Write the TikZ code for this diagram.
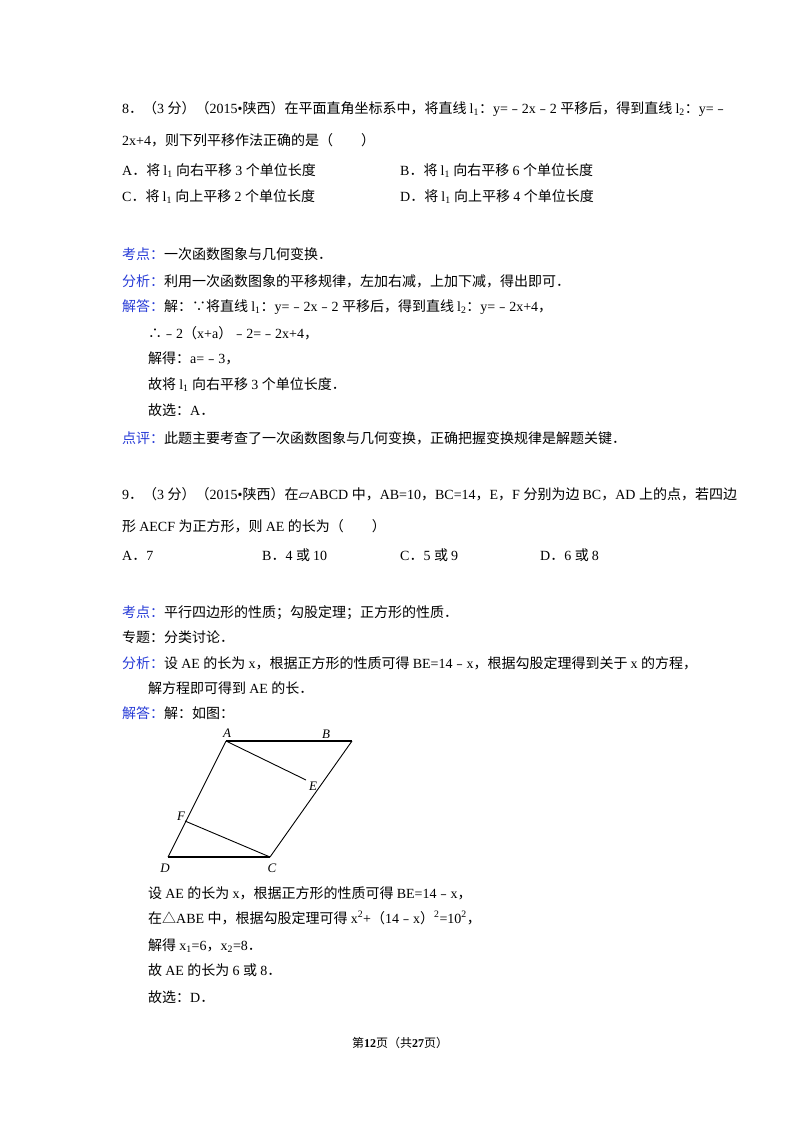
\documentclass[tikz,border=0pt]{standalone}
\usepackage{fontspec}
\setmainfont{Liberation Serif}
\newfontfamily\cjk{Noto Sans CJK SC}
\newfontfamily\dv{DejaVu Sans}
\XeTeXinterchartokenstate=1
\newXeTeXintercharclass\cjkclass
\makeatletter
\count@="3000 \loop\ifnum\count@<"3040 \XeTeXcharclass\count@=\cjkclass \advance\count@ 1 \repeat
\count@="4E00 \loop\ifnum\count@<"A000 \XeTeXcharclass\count@=\cjkclass \advance\count@ 1 \repeat
\count@="FE30 \loop\ifnum\count@<"FFF0 \XeTeXcharclass\count@=\cjkclass \advance\count@ 1 \repeat
\makeatother
\XeTeXcharclass"2234=\cjkclass
\XeTeXcharclass"2235=\cjkclass
\XeTeXcharclass"25B3=\cjkclass
\XeTeXinterchartoks 0 \cjkclass = {\cjk}
\XeTeXinterchartoks 4095 \cjkclass = {\cjk}
\XeTeXinterchartoks \cjkclass 0 = {\rmfamily}
\XeTeXinterchartoks 4095 0 = {\rmfamily}
\definecolor{lblue}{RGB}{40,60,215}
\tikzset{t/.style={anchor=base west,inner sep=0pt,font=\fontsize{14}{16}\selectfont},
 lab/.style={font=\fontsize{13}{15}\selectfont\itshape,inner sep=1pt},
 seg/.style={line width=1.6pt}}
\newcommand{\bl}[1]{\textcolor{lblue}{#1}}
\newcommand{\lone}{l\textsubscript{1}}
\newcommand{\ltwo}{l\textsubscript{2}}
\newcommand{\pgram}{\hbox{\XeTeXinterchartokenstate=0 \dv ▱}}
\begin{document}
\begin{tikzpicture}[x=1pt,y=-1pt]
\useasboundingbox[fill=white] (0,0) rectangle (800,1132);
\node[t] (a1) at (122,113) {8．（3 分）（2015•陕西）在平面直角坐标系中，将直线 \lone：y=﹣2x﹣2 平移后，得到直线 \ltwo：y=﹣};
\node[t] (a2) at (122,145) {2x+4，则下列平移作法正确的是（　　）};
\node[t] (a3) at (122,175) {A．将 \lone\ 向右平移 3 个单位长度};
\node[t] (a4) at (400,175) {B．将 \lone\ 向右平移 6 个单位长度};
\node[t] (a5) at (122,201) {C．将 \lone\ 向上平移 2 个单位长度};
\node[t] (a6) at (400,201) {D．将 \lone\ 向上平移 4 个单位长度};
\node[t] (a7) at (122,259) {\bl{考点：}一次函数图象与几何变换．};
\node[t] (a8) at (122,286) {\bl{分析：}利用一次函数图象的平移规律，左加右减，上加下减，得出即可．};
\node[t] (a9) at (122,311) {\bl{解答：}解：∵将直线 \lone：y=﹣2x﹣2 平移后，得到直线 \ltwo：y=﹣2x+4，};
\node[t] (a10) at (148,338) {∴﹣2（x+a）﹣2=﹣2x+4，};
\node[t] (a11) at (148,363) {解得：a=﹣3，};
\node[t] (a12) at (148,389) {故将 \lone\ 向右平移 3 个单位长度．};
\node[t] (a13) at (148,415) {故选：A．};
\node[t] (a14) at (122,443) {\bl{点评：}此题主要考查了一次函数图象与几何变换，正确把握变换规律是解题关键．};
\node[t] (b1) at (122,499) {9．（3 分）（2015•陕西）在\pgram\rmfamily ABCD 中，AB=10，BC=14，E，F 分别为边 BC，AD 上的点，若四边};
\node[t] (b2) at (122,531) {形 AECF 为正方形，则 AE 的长为（　　）};
\node[t] (b3) at (122,560) {A．7};
\node[t] (b4) at (262,560) {B．4 或 10};
\node[t] (b5) at (400,560) {C．5 或 9};
\node[t] (b6) at (540,560) {D．6 或 8};
\node[t] (b7) at (122,617) {\bl{考点：}平行四边形的性质；勾股定理；正方形的性质．};
\node[t] (b8) at (122,642) {专题：分类讨论．};
\node[t] (b9) at (122,668) {\bl{分析：}设 AE 的长为 x，根据正方形的性质可得 BE=14﹣x，根据勾股定理得到关于 x 的方程，};
\node[t] (b10) at (148,693) {解方程即可得到 AE 的长．};
\node[t] (b11) at (122,718) {\bl{解答：}解：如图：};
\coordinate (A) at (226,741);
\coordinate (B) at (352,741);
\coordinate (C) at (270,857);
\coordinate (D) at (168,857);
\coordinate (E) at (306,780);
\coordinate (F) at (185,821);
\draw[seg] (A) -- (B);
\draw[seg] (D) -- (C);
\draw[line width=0.9pt] (A) -- (D) (B) -- (C) (A) -- (E) (F) -- (C);
\node[lab] (lA) at (227,733) {A};
\node[lab] (lB) at (326,734) {B};
\node[lab] (lE) at (313,786) {E};
\node[lab] (lF) at (181,816) {F};
\node[lab] (lD) at (165,868) {D};
\node[lab] (lC) at (272,868) {C};
\node[t] (c1) at (148,898) {设 AE 的长为 x，根据正方形的性质可得 BE=14﹣x，};
\node[t] (c2) at (148,923) {在△ABE 中，根据勾股定理可得 x\textsuperscript{2}+（14﹣x）\textsuperscript{2}=10\textsuperscript{2}，};
\node[t] (c3) at (148,950) {解得 x\textsubscript{1}=6，x\textsubscript{2}=8．};
\node[t] (c4) at (148,975) {故 AE 的长为 6 或 8．};
\node[t] (c5) at (148,1002) {故选：D．};
\node[anchor=base,inner sep=0pt,font=\fontsize{12}{14}\selectfont] (ft) at (400,1047) {第\textbf{12}页（共\textbf{27}页）};
\end{tikzpicture}
\end{document}
